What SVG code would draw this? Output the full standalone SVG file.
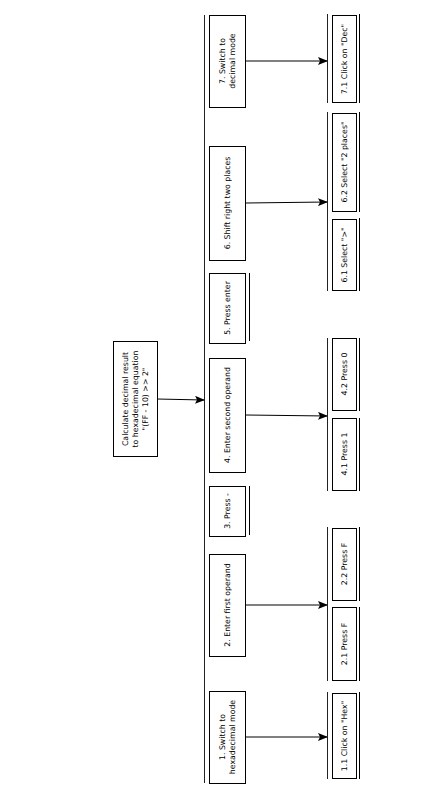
<svg xmlns="http://www.w3.org/2000/svg" width="434" height="800" viewBox="0 0 434 800">
<defs>
<marker id="ah" markerWidth="10" markerHeight="8" refX="9" refY="4" orient="auto" markerUnits="userSpaceOnUse">
<path d="M0,0 L10,4 L0,8 L2,4 Z" fill="#000"/>
</marker>
</defs>
<style>
.box{fill:#fff;stroke:#000;stroke-width:1}
.ln{stroke:#000;stroke-width:1;fill:none}
.bar{stroke:#222;stroke-width:1;fill:none}
text{font-family:"DejaVu Sans",sans-serif;font-size:7.8px;fill:#000;text-anchor:middle}
</style>
<rect width="434" height="800" fill="#fff"/>
<g id="connectors">
<line class="bar" x1="204.5" y1="15" x2="204.5" y2="783"/>
<line class="ln" x1="157" y1="399" x2="204" y2="400" marker-end="url(#ah)"/>
<line class="ln" x1="246" y1="61" x2="327" y2="61" marker-end="url(#ah)"/>
<line class="ln" x1="246" y1="203" x2="327" y2="202" marker-end="url(#ah)"/>
<line class="ln" x1="246" y1="415" x2="327" y2="416" marker-end="url(#ah)"/>
<line class="ln" x1="246" y1="605" x2="327" y2="605" marker-end="url(#ah)"/>
<line class="ln" x1="246" y1="737" x2="327" y2="737" marker-end="url(#ah)"/>
<line class="bar" x1="327.5" y1="14" x2="327.5" y2="103"/>
<line class="bar" x1="327.5" y1="112" x2="327.5" y2="291"/>
<line class="bar" x1="327.5" y1="338" x2="327.5" y2="491"/>
<line class="bar" x1="327.5" y1="527" x2="327.5" y2="681"/>
<line class="bar" x1="327.5" y1="692" x2="327.5" y2="779"/>
</g>
<g id="root">
<rect class="box" x="113.5" y="341.5" width="44" height="115"/>
<g transform="translate(135,399) rotate(-90)">
<text y="-7">Calculate decimal result</text>
<text y="3">to hexadecimal equation</text>
<text y="13">"(FF - 10) &gt;&gt; 2"</text>
</g>
</g>
<g id="n7">
<rect class="box" x="209.5" y="15.5" width="36" height="92"/>
<g transform="translate(227,61) rotate(-90)"><text y="-2">7. Switch to</text><text y="8">decimal mode</text></g>
</g>
<g id="n6">
<rect class="box" x="209.5" y="146.5" width="36" height="114"/>
<g transform="translate(227,203) rotate(-90)"><text y="3">6. Shift right two places</text></g>
</g>
<g id="n5">
<rect class="box" x="209.5" y="273.5" width="36" height="70"/>
<line class="ln" x1="249.5" y1="273" x2="249.5" y2="341"/>
<g transform="translate(227,308) rotate(-90)"><text y="3">5. Press enter</text></g>
</g>
<g id="n4">
<rect class="box" x="209.5" y="358.5" width="36" height="114"/>
<g transform="translate(227,415) rotate(-90)"><text y="3">4. Enter second operand</text></g>
</g>
<g id="n3">
<rect class="box" x="209.5" y="486.5" width="36" height="50"/>
<line class="ln" x1="249.5" y1="486" x2="249.5" y2="535"/>
<g transform="translate(227,511) rotate(-90)"><text y="3">3. Press -</text></g>
</g>
<g id="n2">
<rect class="box" x="209.5" y="554.5" width="36" height="102"/>
<g transform="translate(227,605) rotate(-90)"><text y="3">2. Enter first operand</text></g>
</g>
<g id="n1">
<rect class="box" x="209.5" y="691.5" width="36" height="92"/>
<g transform="translate(227,737) rotate(-90)"><text y="-2">1. Switch to</text><text y="8">hexadecimal mode</text></g>
</g>
<g id="n71">
<rect class="box" x="332.5" y="15.5" width="24" height="87"/>
<line class="ln" x1="359.5" y1="14" x2="359.5" y2="103"/>
<g transform="translate(344,59) rotate(-90)"><text y="3">7.1 Click on "Dec"</text></g>
</g>
<g id="n62">
<rect class="box" x="332.5" y="113.5" width="24" height="98"/>
<line class="ln" x1="359.5" y1="112" x2="359.5" y2="212"/>
<g transform="translate(344,162) rotate(-90)"><text y="3">6.2 Select "2 places"</text></g>
</g>
<g id="n61">
<rect class="box" x="332.5" y="219.5" width="24" height="71"/>
<line class="ln" x1="359.5" y1="218" x2="359.5" y2="291"/>
<g transform="translate(344,255) rotate(-90)"><text y="3">6.1 Select "&gt;"</text></g>
</g>
<g id="n42">
<rect class="box" x="332.5" y="338.5" width="24" height="72"/>
<line class="ln" x1="359.5" y1="338" x2="359.5" y2="411"/>
<g transform="translate(344,374) rotate(-90)"><text y="3">4.2 Press 0</text></g>
</g>
<g id="n41">
<rect class="box" x="332.5" y="418.5" width="24" height="72"/>
<line class="ln" x1="359.5" y1="418" x2="359.5" y2="491"/>
<g transform="translate(344,454) rotate(-90)"><text y="3">4.1 Press 1</text></g>
</g>
<g id="n22">
<rect class="box" x="332.5" y="528.5" width="24" height="72"/>
<line class="ln" x1="359.5" y1="527" x2="359.5" y2="601"/>
<g transform="translate(344,564) rotate(-90)"><text y="3">2.2 Press F</text></g>
</g>
<g id="n21">
<rect class="box" x="332.5" y="607.5" width="24" height="73"/>
<line class="ln" x1="359.5" y1="607" x2="359.5" y2="681"/>
<g transform="translate(344,644) rotate(-90)"><text y="3">2.1 Press F</text></g>
</g>
<g id="n11">
<rect class="box" x="332.5" y="693.5" width="24" height="85"/>
<line class="ln" x1="359.5" y1="692" x2="359.5" y2="779"/>
<g transform="translate(344,736) rotate(-90)"><text y="3">1.1 Click on "Hex"</text></g>
</g>
</svg>
